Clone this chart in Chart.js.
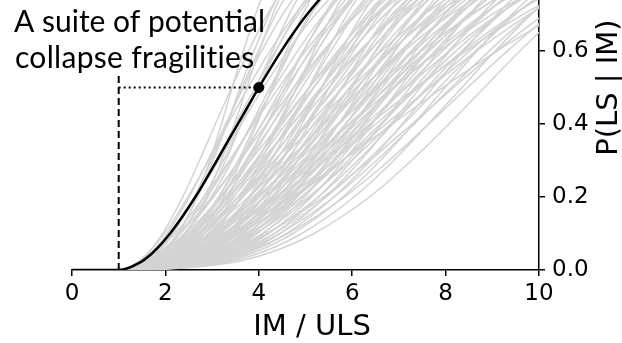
<!DOCTYPE html>
<html>
<head>
<meta charset="utf-8">
<script src="https://cdn.jsdelivr.net/npm/chart.js@4.4.1/dist/chart.umd.min.js"></script>
<style>
  html, body { margin: 0; padding: 0; background: #fff; }
  #wrap { width: 622px; height: 343px; }
</style>
</head>
<body>
<div id="wrap"><canvas id="fragChart" width="622" height="343"></canvas></div>
<script>
// probability levels, and the IM / ULS value at which each curve reaches them
var levels = [0.02, 0.05, 0.1, 0.2, 0.3, 0.4, 0.5, 0.6, 0.7, 0.8];

var blackIM = [1.45, 1.75, 2.10, 2.64, 3.10, 3.55, 4.00, 4.48, 5.03, 5.71];

var grayIM = [
  [1.41, 1.66, 1.94, 2.37, 2.73, 3.07, 3.42, 3.78, 4.18, 4.68],
  [1.57, 1.85, 2.17, 2.62, 2.98, 3.32, 3.64, 3.99, 4.36, 4.81],
  [1.39, 1.65, 1.98, 2.48, 2.92, 3.34, 3.77, 4.24, 4.77, 5.43],
  [1.50, 1.79, 2.14, 2.65, 3.09, 3.50, 3.92, 4.35, 4.84, 5.44],
  [1.76, 2.08, 2.43, 2.91, 3.29, 3.62, 3.95, 4.29, 4.65, 5.08],
  [1.70, 2.05, 2.43, 2.98, 3.43, 3.84, 4.24, 4.66, 5.12, 5.67],
  [1.57, 1.91, 2.30, 2.89, 3.39, 3.86, 4.33, 4.83, 5.39, 6.08],
  [1.48, 1.81, 2.21, 2.83, 3.37, 3.89, 4.43, 5.00, 5.66, 6.47],
  [1.91, 2.31, 2.73, 3.30, 3.76, 4.17, 4.56, 4.96, 5.40, 5.92],
  [1.81, 2.21, 2.65, 3.29, 3.81, 4.29, 4.75, 5.24, 5.77, 6.41],
  [2.17, 2.60, 3.03, 3.61, 4.05, 4.44, 4.81, 5.18, 5.58, 6.04],
  [1.65, 2.04, 2.50, 3.17, 3.75, 4.29, 4.83, 5.40, 6.05, 6.84],
  [2.05, 2.50, 2.98, 3.64, 4.16, 4.63, 5.08, 5.54, 6.05, 6.64],
  [1.90, 2.35, 2.84, 3.55, 4.13, 4.66, 5.18, 5.72, 6.31, 7.03],
  [1.57, 1.96, 2.44, 3.18, 3.82, 4.45, 5.08, 5.77, 6.55, 7.52],
  [2.33, 2.82, 3.31, 3.97, 4.47, 4.92, 5.34, 5.76, 6.21, 6.74],
  [1.74, 2.18, 2.69, 3.45, 4.10, 4.72, 5.33, 5.98, 6.70, 7.60],
  [2.16, 2.66, 3.19, 3.92, 4.50, 5.01, 5.51, 6.03, 6.59, 7.25],
  [1.99, 2.49, 3.03, 3.81, 4.45, 5.03, 5.61, 6.20, 6.85, 7.64],
  [2.47, 3.01, 3.55, 4.28, 4.83, 5.31, 5.78, 6.24, 6.75, 7.33],
  [1.80, 2.27, 2.82, 3.64, 4.34, 5.00, 5.66, 6.36, 7.14, 8.11],
  [2.27, 2.82, 3.40, 4.20, 4.84, 5.40, 5.95, 6.51, 7.12, 7.85],
  [2.06, 2.60, 3.18, 4.02, 4.71, 5.33, 5.95, 6.59, 7.29, 8.13],
  [1.67, 2.13, 2.69, 3.57, 4.33, 5.07, 5.81, 6.62, 7.54, 8.69],
  [2.60, 3.19, 3.78, 4.58, 5.18, 5.71, 6.22, 6.73, 7.28, 7.91],
  [2.36, 2.95, 3.57, 4.43, 5.11, 5.71, 6.30, 6.90, 7.55, 8.33],
  [1.87, 2.38, 2.98, 3.88, 4.64, 5.36, 6.08, 6.84, 7.69, 8.74],
  [2.15, 2.73, 3.37, 4.28, 5.03, 5.71, 6.37, 7.07, 7.83, 8.75],
  [2.71, 3.34, 3.97, 4.82, 5.47, 6.03, 6.58, 7.12, 7.70, 8.38],
  [2.45, 3.07, 3.74, 4.65, 5.38, 6.02, 6.64, 7.29, 7.98, 8.81],
  [1.94, 2.50, 3.15, 4.12, 4.94, 5.72, 6.50, 7.32, 8.24, 9.38],
  [2.23, 2.84, 3.52, 4.49, 5.28, 6.01, 6.72, 7.45, 8.26, 9.24],
  [2.85, 3.53, 4.21, 5.13, 5.82, 6.43, 7.02, 7.60, 8.24, 8.97],
  [2.56, 3.23, 3.95, 4.93, 5.71, 6.40, 7.08, 7.77, 8.52, 9.41],
  [2.32, 2.98, 3.71, 4.75, 5.60, 6.38, 7.14, 7.93, 8.81, 9.86],
  [2.99, 3.72, 4.45, 5.43, 6.18, 6.83, 7.46, 8.09, 8.77, 9.56],
  [2.70, 3.42, 4.20, 5.27, 6.12, 6.87, 7.60, 8.35, 9.16, 10.13],
  [3.15, 3.94, 4.73, 5.80, 6.60, 7.31, 7.99, 8.67, 9.41, 10.26],
  [2.83, 3.62, 4.45, 5.61, 6.52, 7.33, 8.12, 8.93, 9.81, 10.85],
  [3.41, 4.29, 5.18, 6.37, 7.27, 8.07, 8.83, 9.59, 10.42, 11.37],
  [1.97, 2.63, 3.44, 4.70, 5.79, 6.86, 7.94, 9.10, 10.43, 12.08],
  [2.14, 2.82, 3.60, 4.78, 5.78, 6.72, 7.66, 8.66, 9.78, 11.15],
  [2.05, 2.68, 3.41, 4.49, 5.42, 6.29, 7.16, 8.08, 9.12, 10.39],
  [1.89, 2.50, 3.24, 4.39, 5.40, 6.37, 7.37, 8.43, 9.65, 11.16],
  [2.54, 3.31, 4.16, 5.38, 6.37, 7.28, 8.17, 9.09, 10.11, 11.33],
  [1.52, 1.88, 2.32, 3.00, 3.59, 4.17, 4.75, 5.38, 6.10, 6.99],
  [1.61, 1.98, 2.40, 3.03, 3.57, 4.07, 4.58, 5.12, 5.72, 6.46],
  [1.93, 2.40, 2.92, 3.66, 4.26, 4.81, 5.35, 5.91, 6.53, 7.27],
  [2.23, 2.75, 3.32, 4.09, 4.70, 5.25, 5.77, 6.32, 6.91, 7.61],
  [1.98, 2.57, 3.24, 4.26, 5.12, 5.93, 6.75, 7.60, 8.57, 9.76],
  [1.73, 2.23, 2.84, 3.78, 4.61, 5.41, 6.22, 7.10, 8.10, 9.34],
  [2.10, 2.65, 3.26, 4.13, 4.83, 5.48, 6.12, 6.78, 7.50, 8.38],
  [2.52, 3.17, 3.86, 4.82, 5.58, 6.25, 6.90, 7.58, 8.30, 9.17],
  [1.71, 2.14, 2.63, 3.36, 3.99, 4.58, 5.17, 5.79, 6.49, 7.35],
  [1.64, 1.96, 2.32, 2.82, 3.24, 3.62, 3.99, 4.37, 4.79, 5.31],
  [1.75, 2.02, 2.30, 2.67, 2.95, 3.20, 3.43, 3.67, 3.93, 4.22],
  [1.84, 2.15, 2.46, 2.88, 3.20, 3.48, 3.74, 4.01, 4.30, 4.63],
  [1.67, 1.96, 2.26, 2.69, 3.02, 3.32, 3.60, 3.90, 4.22, 4.60],
  [1.85, 2.21, 2.60, 3.14, 3.56, 3.93, 4.30, 4.68, 5.08, 5.56],
  [2.01, 2.38, 2.75, 3.25, 3.62, 3.96, 4.28, 4.59, 4.94, 5.34],
  [1.45, 1.73, 2.04, 2.51, 2.91, 3.29, 3.67, 4.06, 4.51, 5.06],
  [1.43, 1.73, 2.09, 2.65, 3.14, 3.62, 4.10, 4.62, 5.21, 5.95],
  [1.75, 2.13, 2.54, 3.14, 3.62, 4.06, 4.50, 4.95, 5.44, 6.04],
  [1.98, 2.40, 2.85, 3.47, 3.96, 4.40, 4.82, 5.25, 5.73, 6.28],
  [2.25, 2.71, 3.17, 3.79, 4.26, 4.68, 5.07, 5.47, 5.89, 6.39],
  [1.70, 2.11, 2.59, 3.31, 3.93, 4.50, 5.08, 5.69, 6.38, 7.22],
  [1.84, 2.27, 2.73, 3.40, 3.94, 4.44, 4.92, 5.43, 5.99, 6.66],
  [1.62, 2.04, 2.55, 3.35, 4.05, 4.72, 5.41, 6.15, 6.99, 8.04],
  [2.12, 2.60, 3.11, 3.81, 4.37, 4.86, 5.34, 5.84, 6.37, 7.01],
  [2.39, 2.90, 3.41, 4.10, 4.62, 5.08, 5.51, 5.95, 6.43, 6.98],
  [2.03, 2.54, 3.11, 3.92, 4.58, 5.18, 5.78, 6.39, 7.07, 7.89],
  [1.77, 2.23, 2.76, 3.55, 4.22, 4.86, 5.50, 6.17, 6.92, 7.85],
  [2.32, 2.88, 3.48, 4.32, 4.97, 5.56, 6.12, 6.71, 7.34, 8.09],
  [2.54, 3.10, 3.67, 4.43, 5.01, 5.51, 6.00, 6.49, 7.01, 7.62],
  [1.70, 2.17, 2.75, 3.65, 4.44, 5.20, 5.98, 6.81, 7.77, 8.95],
  [2.19, 2.79, 3.44, 4.39, 5.15, 5.86, 6.55, 7.26, 8.05, 9.00],
  [1.90, 2.43, 3.05, 3.97, 4.76, 5.51, 6.25, 7.03, 7.91, 9.00],
  [2.41, 3.01, 3.65, 4.54, 5.24, 5.86, 6.47, 7.09, 7.77, 8.57],
  [2.66, 3.27, 3.88, 4.70, 5.33, 5.87, 6.40, 6.92, 7.49, 8.15],
  [2.26, 2.90, 3.59, 4.60, 5.41, 6.15, 6.89, 7.65, 8.48, 9.49],
  [2.49, 3.14, 3.82, 4.77, 5.51, 6.17, 6.82, 7.48, 8.20, 9.05],
  [2.78, 3.44, 4.09, 4.98, 5.64, 6.23, 6.80, 7.36, 7.97, 8.68],
  [2.01, 2.61, 3.31, 4.35, 5.24, 6.08, 6.91, 7.80, 8.79, 10.01],
  [2.63, 3.33, 4.07, 5.10, 5.91, 6.64, 7.34, 8.06, 8.84, 9.77],
  [2.92, 3.62, 4.33, 5.28, 6.00, 6.63, 7.24, 7.85, 8.50, 9.26],
  [2.37, 3.06, 3.82, 4.91, 5.79, 6.60, 7.40, 8.22, 9.13, 10.23],
  [3.07, 3.83, 4.59, 5.61, 6.39, 7.07, 7.73, 8.38, 9.09, 9.91],
  [2.76, 3.52, 4.33, 5.44, 6.32, 7.10, 7.86, 8.64, 9.49, 10.49],
  [1.82, 2.38, 3.07, 4.13, 5.06, 5.96, 6.88, 7.86, 8.99, 10.38],
  [2.43, 3.15, 3.93, 5.06, 5.98, 6.83, 7.65, 8.51, 9.46, 10.59],
  [3.26, 4.09, 4.92, 6.04, 6.89, 7.63, 8.35, 9.06, 9.83, 10.73],
  [2.09, 2.75, 3.50, 4.63, 5.60, 6.51, 7.41, 8.37, 9.45, 10.77],
  [2.92, 3.74, 4.62, 5.83, 6.79, 7.64, 8.47, 9.32, 10.24, 11.33],
  [1.78, 2.31, 2.95, 3.96, 4.84, 5.69, 6.55, 7.48, 8.54, 9.86],
  [1.78, 2.17, 2.60, 3.21, 3.72, 4.18, 4.63, 5.09, 5.61, 6.23]
];

// the marked point and its guide lines
var markIM = 4.0, markP = 0.5;
var lowerBound = 1.0, dashTop = 0.535;

var xTicks = [0, 2, 4, 6, 8, 10];
var yTicks = [0.0, 0.2, 0.4, 0.6];
var noteLines = ['A suite of potential', 'collapse fragilities'];

function curvePoints(im) {
  var pts = [{x: 0, y: 0}, {x: lowerBound, y: 0}];
  for (var i = 0; i < levels.length; i++) pts.push({x: im[i], y: levels[i]});
  return pts;
}

var datasets = [];
datasets.push({
  data: curvePoints(blackIM), borderColor: '#000', borderWidth: 2.5,
  pointRadius: 0, cubicInterpolationMode: 'monotone', order: 1
});
datasets.push({
  data: [{x: lowerBound, y: 0}, {x: lowerBound, y: dashTop}], borderColor: '#000',
  borderWidth: 2, borderDash: [7, 4], pointRadius: 0, order: 0
});
datasets.push({
  data: [{x: lowerBound, y: markP}, {x: markIM, y: markP}], borderColor: '#000',
  borderWidth: 2, borderDash: [2, 3], pointRadius: 0, order: 0
});
datasets.push({
  data: [{x: markIM, y: markP}], showLine: false, pointRadius: 5,
  pointBackgroundColor: '#000', pointBorderColor: '#000', order: 0
});
grayIM.forEach(function (im) {
  datasets.push({
    data: curvePoints(im), borderColor: '#d3d3d3', borderWidth: 1.5,
    pointRadius: 0, cubicInterpolationMode: 'monotone', order: 2
  });
});

var notePlugin = {
  id: 'note',
  afterDraw: function (chart) {
    var c = chart.ctx;
    c.save();
    c.fillStyle = '#000';
    c.font = '30px Lato';
    c.fillText(noteLines[0], 14, 32);
    c.letterSpacing = '0.3px';
    c.fillText(noteLines[1], 15, 68);
    c.letterSpacing = '0px';
    c.font = '29px "DejaVu Sans"';
    c.textAlign = 'center';
    c.fillText('IM / ULS', 312, 335);
    var yMid = chart.scales.y.getPixelForValue(0.5);
    c.translate(617, yMid);
    c.rotate(-Math.PI / 2);
    c.fillText('P(LS | IM)', 0, 0);
    c.restore();
  }
};

var tickFont = {family: 'DejaVu Sans', size: 23};

var ctx = document.getElementById('fragChart').getContext('2d');
var myChart = new Chart(ctx, {
  type: 'scatter',
  data: {datasets: datasets},
  plugins: [notePlugin],
  options: {
    responsive: false,
    animation: false,
    showLine: true,
    layout: {autoPadding: false, padding: {left: 72, top: 0, right: 0, bottom: 0}},
    plugins: {legend: {display: false}, tooltip: {enabled: false}},
    scales: {
      x: {
        type: 'linear', position: 'bottom', min: 0, max: 10,
        afterBuildTicks: function (s) { s.ticks = xTicks.map(function (v) { return {value: v}; }); },
        afterFit: function (s) { s.height = 73; },
        ticks: {font: tickFont, color: '#000', padding: 4, maxRotation: 0},
        grid: {drawOnChartArea: false, drawTicks: true, tickLength: 6, color: '#000', lineWidth: 1.5},
        border: {color: '#000', width: 1.5}
      },
      y: {
        type: 'linear', position: 'right', min: 0, max: 0.74,
        afterBuildTicks: function (s) { s.ticks = yTicks.map(function (v) { return {value: v}; }); },
        afterFit: function (s) { s.width = 83; s.paddingTop = 0; s.paddingBottom = 0; },
        ticks: {font: tickFont, color: '#000', padding: 7,
                callback: function (v) { return v.toFixed(1); }},
        grid: {drawOnChartArea: false, drawTicks: true, tickLength: 6, color: '#000', lineWidth: 1.5},
        border: {color: '#000', width: 1.5}
      }
    }
  }
});
</script>
</body>
</html>
